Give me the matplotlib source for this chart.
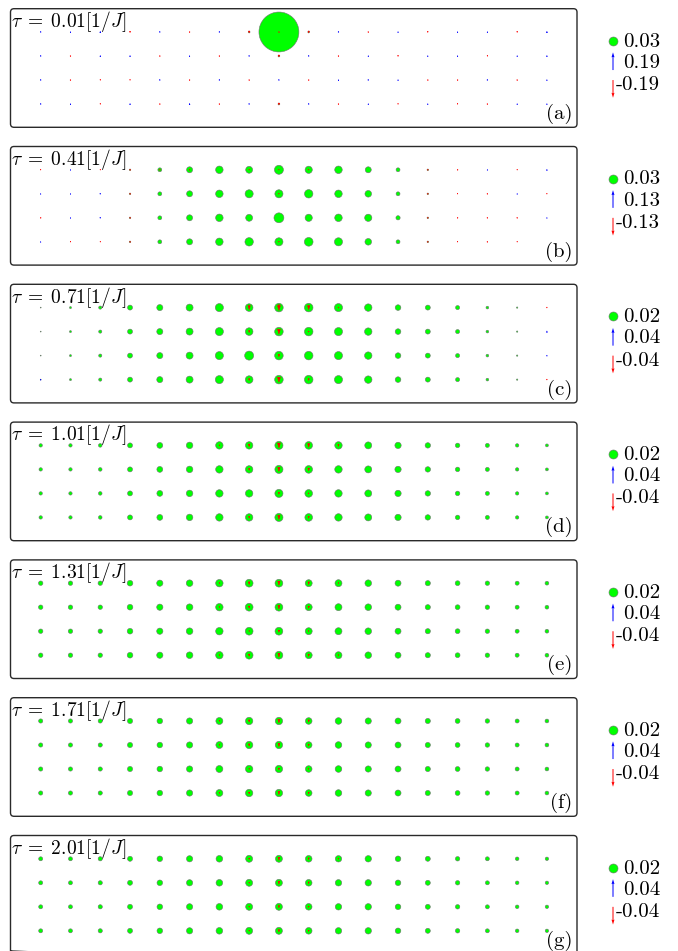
import matplotlib.pyplot as plt
import numpy as np
from matplotlib.patches import FancyBboxPatch

plt.rcParams['mathtext.fontset'] = 'cm'

taus = ['0.01', '0.41', '0.71', '1.01', '1.31', '1.71', '2.01']
labels = ['(a)', '(b)', '(c)', '(d)', '(e)', '(f)', '(g)']
dot_ref = [0.03, 0.03, 0.02, 0.02, 0.02, 0.02, 0.02]
arrow_ref = [0.19, 0.13, 0.04, 0.04, 0.04, 0.04, 0.04]

# density on the 4 x 18 lattice (rows top -> bottom)
dens_a = [
    [0, 0, 0, 0, 0, 0, 0, 0.006, 0.133, 0.006, 0, 0, 0, 0, 0, 0, 0, 0],
    [0, 0, 0, 0, 0, 0, 0, 0, 0.006, 0, 0, 0, 0, 0, 0, 0, 0, 0],
    [0, 0, 0, 0, 0, 0, 0, 0, 0, 0, 0, 0, 0, 0, 0, 0, 0, 0],
    [0, 0, 0, 0, 0, 0, 0, 0, 0.006, 0, 0, 0, 0, 0, 0, 0, 0, 0],
]
dens_b = [
    [0, 0, 0, 0.005, 0.013, 0.020, 0.025, 0.023, 0.030, 0.024, 0.025, 0.020, 0.013, 0.005, 0, 0, 0, 0],
    [0, 0, 0, 0.005, 0.013, 0.020, 0.025, 0.027, 0.027, 0.028, 0.025, 0.022, 0.013, 0.005, 0, 0, 0, 0],
    [0, 0, 0, 0.005, 0.013, 0.020, 0.025, 0.023, 0.033, 0.024, 0.025, 0.024, 0.014, 0.005, 0, 0, 0, 0],
    [0, 0, 0, 0.005, 0.013, 0.020, 0.025, 0.028, 0.027, 0.029, 0.027, 0.022, 0.013, 0.005, 0, 0, 0, 0],
]
dens_c = [
    [0.002, 0.0045, 0.007, 0.011, 0.0135, 0.0155, 0.018, 0.017, 0.019, 0.019, 0.018, 0.0165, 0.0125, 0.011, 0.009, 0.006, 0.003, 0],
    [0.002, 0.0045, 0.007, 0.011, 0.0135, 0.0155, 0.018, 0.017, 0.019, 0.019, 0.018, 0.0165, 0.0125, 0.011, 0.009, 0.006, 0.003, 0],
    [0.002, 0.0045, 0.007, 0.011, 0.0135, 0.0155, 0.018, 0.020, 0.019, 0.019, 0.018, 0.0165, 0.0125, 0.011, 0.009, 0.006, 0.003, 0],
    [0.002, 0.0045, 0.007, 0.011, 0.0135, 0.0155, 0.018, 0.017, 0.019, 0.019, 0.018, 0.0165, 0.0125, 0.011, 0.009, 0.006, 0.003, 0],
]
dens_d = [
    [0.0075, 0.0075, 0.008, 0.011, 0.013, 0.0145, 0.0165, 0.0165, 0.018, 0.017, 0.0165, 0.0155, 0.014, 0.012, 0.010, 0.009, 0.0075, 0.0065],
    [0.0075, 0.0075, 0.008, 0.011, 0.013, 0.0145, 0.0165, 0.0165, 0.018, 0.017, 0.0165, 0.0155, 0.014, 0.012, 0.010, 0.009, 0.0075, 0.0065],
    [0.0075, 0.0075, 0.008, 0.011, 0.013, 0.0145, 0.0165, 0.0165, 0.018, 0.017, 0.0165, 0.0155, 0.014, 0.012, 0.010, 0.009, 0.0075, 0.0065],
    [0.0075, 0.0075, 0.008, 0.011, 0.013, 0.0145, 0.0165, 0.0165, 0.018, 0.017, 0.0165, 0.0155, 0.014, 0.012, 0.010, 0.009, 0.0075, 0.0065],
]
dens_e = [
    [0.0098, 0.0098, 0.0098, 0.0125, 0.0138, 0.0147, 0.0165, 0.0173, 0.0173, 0.0155, 0.0155, 0.0147, 0.0133, 0.0115, 0.0107, 0.0098, 0.0089, 0.0084],
    [0.0098, 0.0098, 0.0098, 0.0125, 0.0138, 0.0147, 0.0165, 0.0173, 0.0173, 0.0155, 0.0155, 0.0147, 0.0133, 0.0115, 0.0107, 0.0098, 0.0089, 0.0084],
    [0.0098, 0.0098, 0.0098, 0.0125, 0.0138, 0.0147, 0.0165, 0.0173, 0.0173, 0.0155, 0.0155, 0.0147, 0.0133, 0.0115, 0.0107, 0.0098, 0.0089, 0.0084],
    [0.0098, 0.0098, 0.0098, 0.0125, 0.0138, 0.0147, 0.0165, 0.0173, 0.0173, 0.0155, 0.0155, 0.0147, 0.0133, 0.0115, 0.0107, 0.0098, 0.0089, 0.0084],
]
dens_f = [
    [0.0093, 0.0093, 0.0093, 0.0115, 0.0124, 0.0138, 0.0155, 0.0164, 0.0164, 0.0147, 0.0147, 0.0138, 0.0133, 0.0115, 0.0107, 0.0098, 0.0089, 0.0084],
    [0.0093, 0.0093, 0.0093, 0.0115, 0.0124, 0.0138, 0.0155, 0.0164, 0.0164, 0.0147, 0.0147, 0.0138, 0.0133, 0.0115, 0.0107, 0.0098, 0.0089, 0.0084],
    [0.0093, 0.0093, 0.0093, 0.0115, 0.0124, 0.0138, 0.0155, 0.0164, 0.0164, 0.0147, 0.0147, 0.0138, 0.0133, 0.0115, 0.0107, 0.0098, 0.0089, 0.0084],
    [0.0093, 0.0093, 0.0093, 0.0115, 0.0124, 0.0138, 0.0155, 0.0164, 0.0164, 0.0147, 0.0147, 0.0138, 0.0133, 0.0115, 0.0107, 0.0098, 0.0089, 0.0084],
]
dens_g = [
    [0.0089, 0.0089, 0.0093, 0.0111, 0.0124, 0.0138, 0.0147, 0.0155, 0.0155, 0.0147, 0.0142, 0.0142, 0.0124, 0.0111, 0.0098, 0.0089, 0.008, 0.0076],
    [0.0089, 0.0089, 0.0093, 0.0111, 0.0124, 0.0138, 0.0147, 0.0155, 0.0155, 0.0147, 0.0142, 0.0142, 0.0124, 0.0111, 0.0098, 0.0089, 0.008, 0.0076],
    [0.0089, 0.0089, 0.0093, 0.0111, 0.0124, 0.0138, 0.0147, 0.0155, 0.0155, 0.0147, 0.0142, 0.0142, 0.0124, 0.0111, 0.0098, 0.0089, 0.008, 0.0076],
    [0.0089, 0.0089, 0.0093, 0.0111, 0.0124, 0.0138, 0.0147, 0.0155, 0.0155, 0.0147, 0.0142, 0.0142, 0.0124, 0.0111, 0.0098, 0.0089, 0.008, 0.0076],
]

# spin (arrow) on the lattice
spin_a = [
    [0.006, 0.01, 0.015, -0.015, 0.006, -0.006, 0.006, -0.02, -0.006, -0.02, 0.006, -0.006, 0.01, -0.012, 0.01, 0.01, -0.012, 0.015],
    [0.006, -0.006, 0.012, 0.012, -0.006, 0.01, -0.006, 0.004, -0.02, 0.004, -0.006, 0.01, -0.012, 0.01, 0.01, -0.01, 0.01, 0.012],
    [0.006, -0.006, -0.01, -0.01, 0.006, -0.003, 0.003, -0.005, 0.004, -0.005, 0.01, 0.003, 0.01, -0.006, -0.006, 0.006, -0.008, 0.01],
    [0.006, 0.01, -0.01, 0.012, -0.006, 0.015, -0.006, 0.004, -0.02, 0.004, -0.006, 0.01, -0.01, 0.01, -0.01, -0.006, 0.01, 0.01],
]
spin_b = [
    [-0.006, 0.006, -0.006, -0.004, -0.003, -0.004, 0, -0.006, -0.006, -0.006, 0, 0, 0, -0.003, -0.004, 0.006, -0.006, 0.008],
    [0.006, 0.006, 0.003, -0.003, 0, 0, 0, 0, -0.006, 0, 0, 0, 0, -0.003, -0.006, -0.004, 0.006, -0.006],
    [-0.004, 0.006, 0.003, -0.003, 0, 0, 0, 0, 0, 0, 0, 0, 0, -0.003, -0.004, -0.004, -0.004, 0.006],
    [0.006, -0.006, -0.006, -0.003, 0, 0, 0, 0, -0.006, 0, 0, 0, 0, -0.003, -0.006, -0.004, -0.006, 0],
]
# later panels: only a few columns carry a visible spin (column -> rows)
spin_c = {0: [0, 0, 0, 0.002], 7: [-0.009, -0.004, 0, -0.004], 8: [-0.013, -0.011, -0.005, -0.011],
          9: [-0.009, -0.002, 0, -0.004], 10: [-0.002, 0, 0, 0], 17: [-0.002, 0.003, 0.002, -0.002]}
spin_d = {6: [-0.002, 0, 0, 0], 7: [-0.006, -0.004, 0, -0.004], 8: [-0.011, -0.009, -0.004, -0.009],
          9: [-0.008, -0.006, -0.002, -0.004], 10: [-0.004, 0, 0, 0]}
spin_e = {6: [-0.002, -0.002, 0, -0.002], 7: [-0.006, -0.005, -0.002, -0.005], 8: [-0.009, -0.008, -0.005, -0.008],
          9: [-0.006, -0.005, -0.002, -0.005], 10: [-0.002, 0, 0, -0.002]}
spin_f = {6: [-0.002, -0.002, 0, -0.002], 7: [-0.005, -0.005, -0.002, -0.004], 8: [-0.008, -0.007, -0.004, -0.007],
          9: [-0.005, -0.004, -0.002, -0.004]}
spin_g = {7: [-0.003, -0.002, -0.002, -0.002], 8: [-0.007, -0.006, -0.005, -0.005],
          9: [-0.004, -0.004, -0.003, -0.003], 10: [-0.002, 0, 0, 0]}

dens = [dens_a, dens_b, dens_c, dens_d, dens_e, dens_f, dens_g]
spins = [spin_a, spin_b, spin_c, spin_d, spin_e, spin_f, spin_g]

W, H = 678, 951
fig = plt.figure(figsize=(W / 100, H / 100), dpi=100)

# overlay in pixel coordinates for boxes, titles and legends
ov = fig.add_axes([0, 0, 1, 1])
ov.set_xlim(0, W)
ov.set_ylim(H, 0)
ov.axis('off')

R_REF = 4.5    # px radius of the legend dot
L_REF = 17.7   # px length of the legend arrow
qkw = dict(units='dots', width=1.0, headwidth=3, headlength=5, headaxislength=4.5,
           scale_units='dots', pivot='middle')


def msize(r_px):
    return (2 * r_px * 0.72) ** 2


box_h = 118.6
for k in range(7):
    top = 8.7 + 137.8 * k
    ov.add_patch(FancyBboxPatch((10.5, top), 566.5, box_h,
                                boxstyle='round,pad=0,rounding_size=3.5',
                                fc='none', ec='#2a2a2a', lw=1.0))

    ax = fig.add_axes([10.5 / W, 1 - (top + box_h) / H, 566.5 / W, box_h / H])
    ax.set_xlim(-1.014, 18.01)
    ax.set_ylim(-0.97, 3.97)
    ax.axis('off')

    d = np.array(dens[k], dtype=float)
    cols, rows = np.meshgrid(np.arange(18), np.arange(4))
    yy = 3 - rows
    m = d > 0
    r_px = d[m] / dot_ref[k] * R_REF
    ax.scatter(cols[m], yy[m], s=msize(r_px), c='#00ff00', edgecolors='#707070',
               linewidths=0.4, clip_on=False, zorder=2)

    sp = spins[k]
    if isinstance(sp, dict):
        s = np.zeros((4, 18))
        for c, vals in sp.items():
            s[:, c] = vals
    else:
        s = np.array(sp, dtype=float)
    m = s != 0
    colors = list(np.where(s[m] > 0, '#0000ff', '#ff0000'))
    ax.quiver(cols[m], yy[m], np.zeros(m.sum()), s[m], color=colors,
              edgecolors=colors, linewidths=0.35,
              scale=arrow_ref[k] / L_REF, minlength=0.8, zorder=3, **qkw)

    ov.text(11, top + 0.3, r'$\tau\;=\;%s[1/J]$' % taus[k], fontsize=14,
            ha='left', va='top')
    ov.text(572.5, top + 110.3, labels[k], fontfamily='cmr10', fontsize=15,
            ha='right', va='baseline')

    # legend
    ov.scatter([613], [top + 32], s=msize(R_REF), c='#00ff00', edgecolors='#707070',
               linewidths=0.4)
    ov.text(623, top + 38, '%.2f' % dot_ref[k], fontfamily='cmr10', fontsize=15, va='baseline')
    ov.quiver([613], [top + 52.5], [0], [arrow_ref[k]], color='#0000ff',
              scale=arrow_ref[k] / L_REF, **qkw)
    ov.text(623, top + 59, '%.2f' % arrow_ref[k], fontfamily='cmr10', fontsize=15, va='baseline')
    ov.quiver([613], [top + 80.2], [0], [-arrow_ref[k]], color='#ff0000',
              scale=arrow_ref[k] / L_REF, **qkw)
    ov.text(616, top + 81.3, '-%.2f' % arrow_ref[k], fontfamily='cmr10', fontsize=15, va='baseline')

fig.savefig('out.png', dpi=100)
